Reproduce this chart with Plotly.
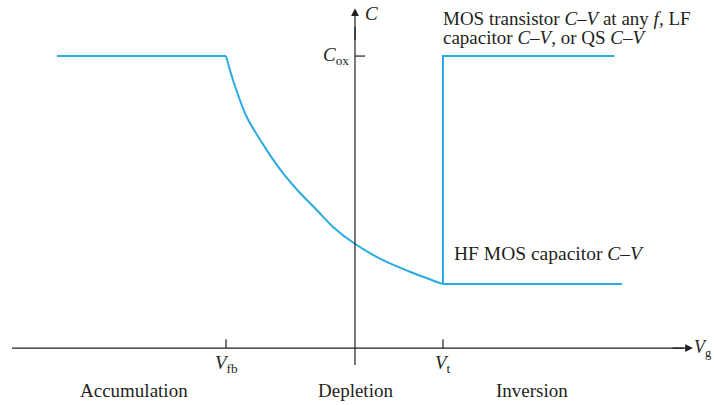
import plotly.graph_objects as go

# Data (V in units of |Vfb|, C in units of Cox)
V_fb = -1.0
V_t = 0.682
V_left = -2.31
V_right_hf = 2.07
V_right_lf = 2.01

dep_V = [-1.0, -0.946, -0.840, -0.684, -0.558, -0.426, -0.297, -0.171, 0.013, 0.217, 0.450, 0.682]
dep_C = [1.0, 0.918, 0.792, 0.678, 0.599, 0.531, 0.473, 0.415, 0.353, 0.301, 0.257, 0.219]
C_min = 0.219
C_ox = 1.0

acc_V = [V_left, V_fb]
acc_C = [C_ox, C_ox]
inv_V = [V_t, V_right_hf]
inv_C = [C_min, C_min]
lf_V = [V_t, V_t, V_right_lf]
lf_C = [C_min, C_ox, C_ox]

line_color = "#29abe2"
txt = "#231f20"
font_serif = "Liberation Serif"

fig = go.Figure()
for xs, ys, shp in [(acc_V, acc_C, "linear"), (dep_V, dep_C, "spline"),
                    (inv_V, inv_C, "linear"), (lf_V, lf_C, "linear")]:
    fig.add_trace(go.Scatter(x=xs, y=ys, mode="lines",
                             line=dict(color=line_color, width=2, shape=shp, smoothing=0.8),
                             hoverinfo="skip"))

X0, X1 = -2.752, 2.783
Y0, Y1 = -0.195, 1.192

axis_col = "#231f20"
shapes = [
    dict(type="line", x0=-2.659, x1=2.55, y0=0, y1=0, line=dict(color=axis_col, width=1.2)),
    dict(type="line", x0=0, x1=0, y0=-0.058, y1=1.10, line=dict(color=axis_col, width=1.2)),
    dict(type="line", x0=V_fb, x1=V_fb, y0=0, y1=0.03, line=dict(color=axis_col, width=1.2)),
    dict(type="line", x0=V_t, x1=V_t, y0=0, y1=0.03, line=dict(color=axis_col, width=1.2)),
    dict(type="line", x0=0, x1=0.078, y0=C_ox, y1=C_ox, line=dict(color=axis_col, width=1.2)),
]

anns = [
    dict(x=2.62, y=0, ax=2.45, ay=0, axref="x", ayref="y", xref="x", yref="y",
         showarrow=True, arrowhead=2, arrowsize=1.3, arrowwidth=1.2, arrowcolor=axis_col, text=""),
    dict(x=0, y=1.164, ax=0, ay=1.05, axref="x", ayref="y", xref="x", yref="y",
         showarrow=True, arrowhead=2, arrowsize=1.3, arrowwidth=1.2, arrowcolor=axis_col, text=""),
]

def t(x, y, s, xa="center", ya="middle", size=19):
    anns.append(dict(x=x, y=y, xref="x", yref="y", text=s, showarrow=False,
                     xanchor=xa, yanchor=ya, font=dict(family=font_serif, size=size, color=txt)))

t(0.06, 1.145, "<i>C</i>", xa="left")
t(-0.03, C_ox, "<i>C</i><sub>ox</sub>", xa="right")
t(V_fb, -0.055, "<i>V</i><sub>fb</sub>")
t(V_t, -0.055, "<i>V</i><sub>t</sub>")
t(2.783, 0.0, "<i>V</i><sub>g</sub>", xa="right", size=18)
t(-1.71, -0.145, "Accumulation")
t(0.0, -0.145, "Depletion")
t(1.37, -0.145, "Inversion")
t(0.67, 1.130, "MOS transistor <i>C–V</i> at any <i>f</i>, LF", xa="left")
t(0.67, 1.062, "capacitor <i>C–V</i>, or QS <i>C–V</i>", xa="left")
t(0.75, 0.325, "HF MOS capacitor <i>C–V</i>", xa="left", size=19.5)

fig.update_layout(
    width=714, height=405, margin=dict(l=0, r=0, t=0, b=0),
    paper_bgcolor="white", plot_bgcolor="white", showlegend=False,
    xaxis=dict(range=[X0, X1], visible=False, fixedrange=True),
    yaxis=dict(range=[Y0, Y1], visible=False, fixedrange=True),
    shapes=shapes, annotations=anns,
)
fig.write_html("out.html", config={"displayModeBar": False},
               post_script="document.body.style.margin='0';document.body.style.overflow='hidden';")
